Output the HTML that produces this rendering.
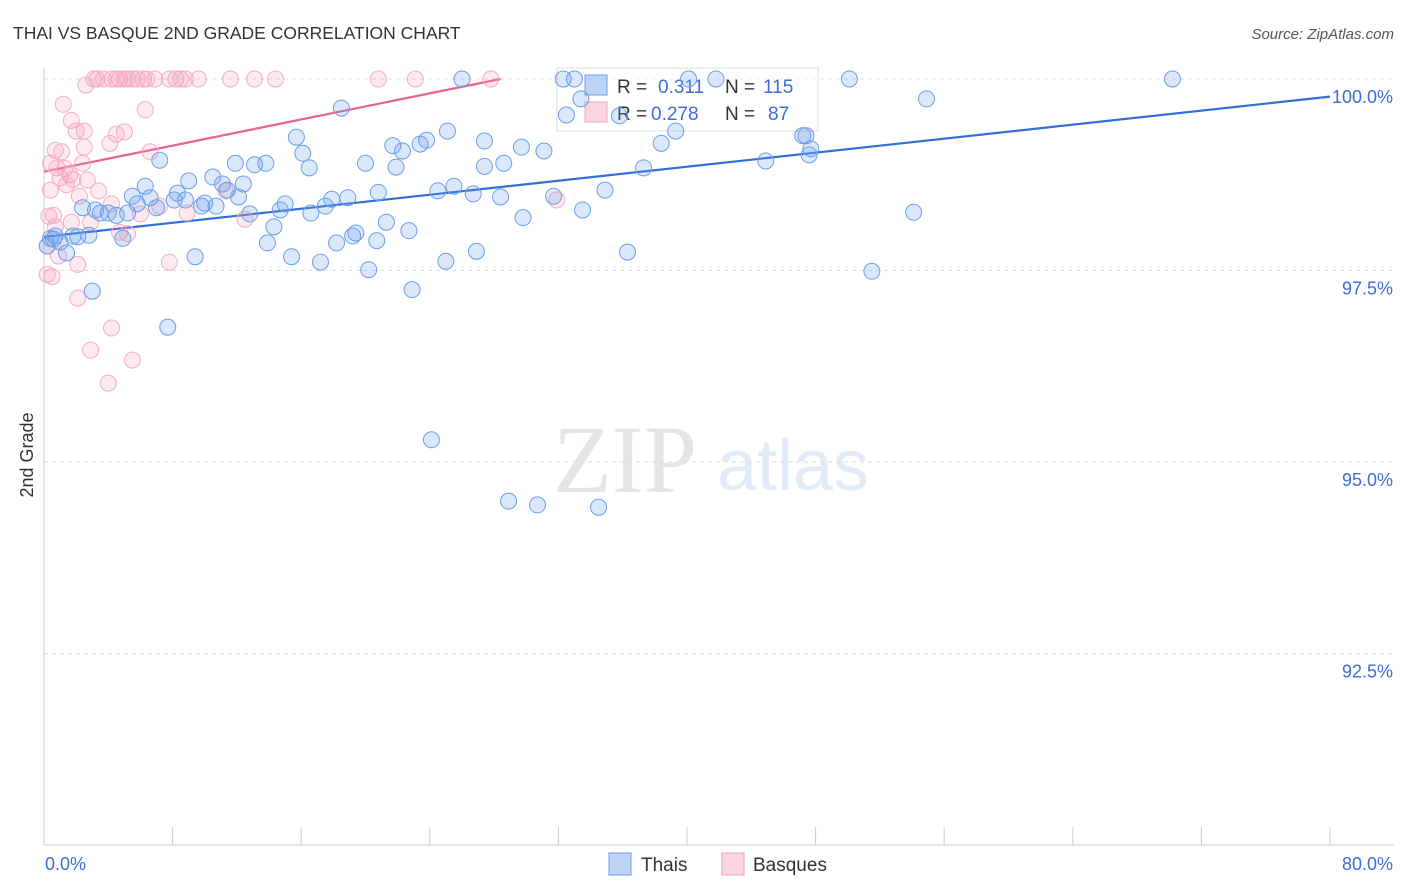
<!DOCTYPE html>
<html><head><meta charset="utf-8">
<style>
body{margin:0;background:#fff;font-family:"Liberation Sans",sans-serif;}
svg{display:block}
</style></head>
<body>
<svg id="chart" width="1406" height="892">
<text x="13" y="39" font-size="17.5" fill="#333">THAI VS BASQUE 2ND GRADE CORRELATION CHART</text>
<text x="1394" y="39" font-size="15" fill="#555" font-style="italic" text-anchor="end">Source: ZipAtlas.com</text>
<text transform="translate(33,455) rotate(-90)" font-size="18" fill="#333" text-anchor="middle">2nd Grade</text>
<g opacity="0.25">
<text x="553" y="492" font-family="Liberation Serif,serif" font-size="96" fill="#999">ZIP</text>
<text x="717" y="490" font-size="72" fill="#8fb3e8">atlas</text>
</g>
<g id="grid"></g>
<g id="axes"></g>
<g id="trends"></g>
<g>
<rect x="557" y="68" width="261" height="63" fill="#fff" fill-opacity="0.55" stroke="#ddd"/>
<rect x="585" y="75" width="22" height="20" fill="rgba(110,160,235,0.45)" stroke="#6d9ee8"/>
<rect x="585" y="102" width="22" height="20" fill="rgba(245,150,180,0.4)" stroke="#f0a0bb"/>
<text x="617" y="93" font-size="19" fill="#333">R = <tspan fill="#3b6fd6" x="658">0.311</tspan><tspan x="725">N = </tspan><tspan fill="#3b6fd6" x="763">115</tspan></text>
<text x="617" y="120" font-size="19" fill="#333">R = <tspan fill="#3b6fd6" x="651">0.278</tspan><tspan x="725">N = </tspan><tspan fill="#3b6fd6" x="768">87</tspan></text>
</g>
<g id="points"></g>
<g>
<rect x="609" y="853" width="22" height="22" fill="rgba(110,160,235,0.45)" stroke="#6d9ee8"/>
<text x="641" y="871" font-size="19" fill="#333">Thais</text>
<rect x="722" y="853" width="22" height="22" fill="rgba(245,150,180,0.4)" stroke="#f0a0bb"/>
<text x="753" y="871" font-size="19" fill="#333">Basques</text>
</g>
</svg>
<script>
const yTicks=[100,97.5,95,92.5];
const yTickLabels=["100.0%","97.5%","95.0%","92.5%"];
const xTicks=[0,8,16,24,32,40,48,56,64,72,80];
const xEndLabels=["0.0%","80.0%"];
const thaiX=[26.0,32.3,33.0,40.1,41.8,50.1,70.2,54.9,18.5,33.4,25.1,27.4,15.7,39.3,38.4,47.2,47.4,47.7,47.6,44.9,31.1,29.7,28.6,27.4,23.4,23.8,21.7,22.3,20.0,21.9,16.1,16.5,13.8,13.1,11.9,10.5,7.2,9.0,11.1,12.4,11.4,12.1,6.3,5.5,6.6,8.3,8.1,8.8,7.0,5.8,10.0,9.8,10.7,14.7,15.0,16.6,17.5,17.9,18.9,20.8,24.5,25.5,26.7,28.4,31.7,34.9,37.3,29.8,33.5,21.3,22.7,19.2,19.4,18.2,20.7,13.9,14.3,12.8,2.4,3.5,4.0,4.5,5.2,4.9,3.2,1.8,2.1,2.8,1.0,0.6,0.7,0.4,1.4,0.2,9.4,15.4,17.2,20.2,25.0,26.9,36.3,51.5,54.1,3.0,22.9,7.7,24.1,28.9,30.7,34.5,35.8,32.5];
const thaiY=[100,100,100,100,100,100,100,99.74,99.62,99.74,99.32,99.19,99.24,99.32,99.16,99.26,99.26,99.09,99.01,98.93,99.06,99.11,98.90,98.86,99.15,99.20,99.13,99.06,98.90,98.85,99.03,98.84,98.90,98.88,98.90,98.72,98.94,98.67,98.63,98.63,98.55,98.46,98.60,98.47,98.45,98.51,98.42,98.42,98.32,98.37,98.38,98.34,98.34,98.29,98.37,98.25,98.34,98.43,98.45,98.52,98.54,98.60,98.50,98.46,98.47,98.55,98.84,98.19,98.29,98.13,98.02,97.95,97.99,97.86,97.89,97.86,98.07,98.24,98.32,98.25,98.25,98.22,98.25,97.92,98.29,97.95,97.94,97.96,97.87,97.91,97.95,97.92,97.73,97.82,97.68,97.68,97.61,97.51,97.62,97.75,97.74,97.49,98.26,97.23,97.25,96.76,95.29,94.49,94.44,94.41,99.52,99.53];
const basqueX=[3.1,3.3,3.7,4.2,4.5,4.7,5.0,5.2,5.5,5.8,6.2,6.4,6.9,7.8,8.2,8.5,8.8,9.6,11.6,13.1,14.4,20.8,23.1,27.8,2.6,1.2,6.3,1.7,2.0,2.5,5.0,4.5,4.1,6.6,2.5,0.7,1.1,0.4,0.8,2.4,1.3,1.6,1.0,1.8,2.7,1.4,0.4,2.2,3.4,11.3,4.2,7.2,8.9,6.0,0.3,0.6,1.7,2.9,12.5,4.7,5.2,0.7,0.2,0.9,2.1,7.8,0.5,0.2,2.1,4.2,2.9,5.5,4.0,31.9];
const basqueY=[100,100,100,100,100,100,100,100,100,100,100,100,100,100,100,100,100,100,100,100,100,100,100,100,99.92,99.67,99.60,99.46,99.32,99.32,99.31,99.28,99.16,99.05,99.11,99.07,99.05,98.90,98.84,98.90,98.83,98.75,98.71,98.69,98.68,98.62,98.55,98.47,98.54,98.54,98.37,98.34,98.25,98.24,98.21,98.22,98.13,98.13,98.17,98.00,97.98,98.07,97.82,97.69,97.58,97.61,97.42,97.45,97.14,96.75,96.46,96.33,96.03,98.42];
const thaiTrendX=[0,80], thaiTrendY=[97.94,99.77];
const basqueTrendX=[0,28.4], basqueTrendY=[98.79,100];

const NS="http://www.w3.org/2000/svg";
const X0=44,X1=1330,Y0=79,Y1=845;
function sx(v){return X0+(v-0)/(80-0)*(X1-X0);}
function sy(v){return Y0+(100-v)/(100-90)*(Y1-Y0);}
function mk(tag,attrs,parent){const e=document.createElementNS(NS,tag);for(const k in attrs)e.setAttribute(k,attrs[k]);parent.appendChild(e);return e;}
const grid=document.getElementById('grid'),axes=document.getElementById('axes'),tr=document.getElementById('trends'),pts=document.getElementById('points');
yTicks.forEach((t,i)=>{
 const l=mk('line',{x1:X0,x2:1394,y1:sy(t),y2:sy(t),stroke:'#ddd','stroke-dasharray':'4,4'},grid);
 
 
 const tx=mk('text',{x:1393,y:sy(t)+24,'font-size':18,fill:'#3b6fd6','text-anchor':'end'},axes);
 tx.textContent=yTickLabels[i];
 
 
});
const ya=mk('line',{x1:X0,x2:X0,y1:68,y2:Y1,stroke:'#ccc'},axes);


const xa=mk('line',{x1:X0,x2:1394,y1:Y1,y2:Y1,stroke:'#ccc'},axes);


xTicks.forEach(t=>{
 const l=mk('line',{x1:sx(t),x2:sx(t),y1:Y1-18,y2:Y1,stroke:'#ccc'},axes);
 
 
});
const xl0=mk('text',{x:45,y:870,'font-size':18,fill:'#3b6fd6'},axes);xl0.textContent=xEndLabels[0];


const xl1=mk('text',{x:1393,y:870,'font-size':18,fill:'#3b6fd6','text-anchor':'end'},axes);xl1.textContent=xEndLabels[1];


function dots(xs,ys,fill,stroke,name){
 xs.forEach((x,i)=>{
  const c=mk('circle',{cx:sx(x),cy:sy(ys[i]),r:8,fill:fill,stroke:stroke,'stroke-width':1},pts);
  
  
 });
}
dots(basqueX,basqueY,'rgba(245,150,180,0.2)','#f4adc5','basque-point');
dots(thaiX,thaiY,'rgba(110,160,235,0.25)','#6d9ee8','thai-point');
const t1=mk('line',{x1:sx(thaiTrendX[0]),y1:sy(thaiTrendY[0]),x2:sx(thaiTrendX[1]),y2:sy(thaiTrendY[1]),stroke:'#2f6fd8','stroke-width':2.2},tr);


const t2=mk('line',{x1:sx(basqueTrendX[0]),y1:sy(basqueTrendY[0]),x2:sx(basqueTrendX[1]),y2:sy(basqueTrendY[1]),stroke:'#e8628e','stroke-width':2.2},tr);


</script>
</body></html>
